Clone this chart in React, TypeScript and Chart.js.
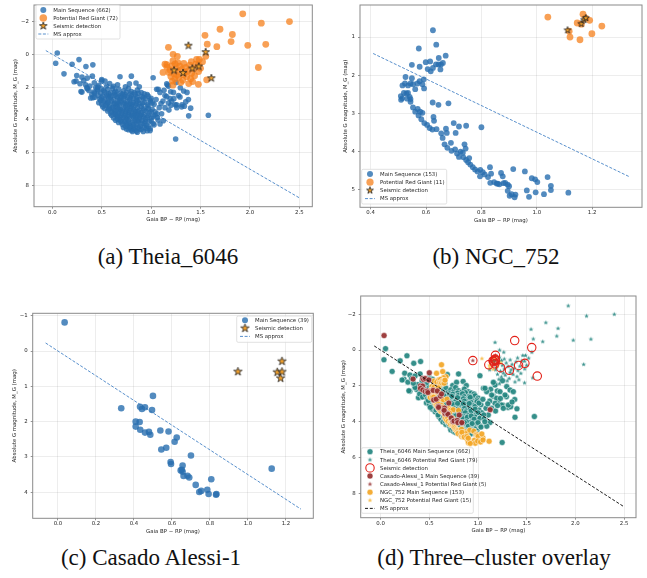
import React, { useEffect, useRef } from "react";
import { Chart, registerables } from "chart.js";

Chart.register(...registerables);

type Pt = [number, number];

// ---------------- Theia_6046 ----------------
const THEIA_MS: Pt[] = [
  // upper main sequence
  [0.05, -0.08], [0.034, 0.54], [0.118, 1.19], [0.2, 0.6], [0.27, 0.32], [0.34, 0.74], [0.41, 0.64],
  [0.247, 1.29], [0.24, 1.63], [0.3, 1.39], [0.28, 1.79], [0.318, 1.59], [0.35, 2.03], [0.3, 2.3],
  [0.405, 1.33], [0.425, 1.73], [0.38, 1.93], [0.41, 2.64], [0.37, 2.2], [0.46, 2.0], [0.5, 1.53],
  [0.388, 2.66], [0.29, 2.27], [0.354, 2.09], [0.22, 1.67], [0.336, 1.85], [0.353, 1.45], [0.428, 2.36],
  [0.455, 2.13], [0.685, 1.37], [0.8, 1.33], [1.02, 1.43], [0.55, 1.93], [0.533, 1.63], [0.847, 1.75],
  // dense core
  [0.5, 1.62], [0.58, 1.78], [0.62, 1.95], [0.66, 1.85], [0.74, 1.98], [0.78, 1.8], [0.88, 1.98],
  [0.47, 1.88], [0.44, 2.02],
  [0.46, 2.2], [0.5, 2.1], [0.53, 2.3], [0.56, 2.15], [0.59, 2.35], [0.61, 2.06], [0.64, 2.25],
  [0.67, 2.12], [0.69, 2.38], [0.72, 2.22], [0.75, 2.31], [0.77, 2.09], [0.8, 2.27], [0.83, 2.35],
  [0.86, 2.18], [0.9, 2.33], [0.93, 2.4], [0.49, 2.37], [0.42, 2.3], [0.4, 2.45],
  [0.52, 2.2], [0.57, 2.4], [0.63, 2.32], [0.71, 2.44], [0.79, 2.4], [0.87, 2.38], [0.96, 2.45],
  [0.43, 2.62], [0.46, 2.5], [0.48, 2.72], [0.51, 2.55], [0.53, 2.78], [0.55, 2.48], [0.57, 2.66],
  [0.6, 2.52], [0.62, 2.75], [0.64, 2.45], [0.66, 2.63], [0.68, 2.8], [0.7, 2.55], [0.72, 2.7],
  [0.74, 2.46], [0.76, 2.62], [0.78, 2.77], [0.8, 2.53], [0.82, 2.68], [0.84, 2.44], [0.86, 2.6],
  [0.88, 2.76], [0.91, 2.58], [0.94, 2.7], [0.97, 2.55], [1.0, 2.68], [0.56, 2.58], [0.69, 2.68],
  [0.5, 2.65], [0.59, 2.6], [0.65, 2.55], [0.73, 2.58], [0.79, 2.66], [0.85, 2.72], [0.92, 2.64],
  [0.99, 2.78],
  [0.47, 2.95], [0.5, 3.05], [0.52, 2.88], [0.54, 3.12], [0.56, 2.96], [0.58, 3.18], [0.6, 2.84],
  [0.62, 3.04], [0.64, 3.2], [0.66, 2.92], [0.68, 3.1], [0.7, 2.86], [0.72, 3.02], [0.74, 3.16],
  [0.76, 2.9], [0.78, 3.07], [0.8, 3.19], [0.82, 2.94], [0.84, 3.1], [0.86, 2.85], [0.88, 3.03],
  [0.9, 3.17], [0.93, 2.93], [0.96, 3.08], [0.99, 2.88], [1.03, 3.05], [0.65, 3.05], [0.73, 2.97],
  [0.81, 3.05], [0.55, 3.02],
  [0.49, 2.82], [0.57, 2.9], [0.63, 2.98], [0.67, 3.0], [0.75, 3.05], [0.79, 2.98], [0.85, 3.0],
  [0.91, 2.98], [0.97, 3.15], [1.01, 2.96],
  [0.53, 3.3], [0.56, 3.45], [0.58, 3.28], [0.6, 3.52], [0.62, 3.36], [0.64, 3.58], [0.66, 3.25],
  [0.68, 3.44], [0.7, 3.6], [0.72, 3.32], [0.74, 3.5], [0.76, 3.27], [0.78, 3.42], [0.8, 3.57],
  [0.82, 3.34], [0.84, 3.48], [0.86, 3.26], [0.88, 3.4], [0.9, 3.55], [0.92, 3.3], [0.95, 3.46],
  [0.98, 3.58], [1.01, 3.35], [1.04, 3.5], [0.69, 3.35], [0.77, 3.55], [0.85, 3.6], [0.63, 3.45],
  [0.51, 3.2], [0.57, 3.35], [0.61, 3.25], [0.67, 3.35], [0.71, 3.45], [0.75, 3.38], [0.79, 3.3],
  [0.83, 3.42], [0.87, 3.5], [0.93, 3.4], [0.97, 3.3], [1.0, 3.5],
  [0.6, 3.72], [0.62, 3.88], [0.64, 3.66], [0.66, 3.8], [0.68, 3.96], [0.7, 3.7], [0.72, 3.85],
  [0.74, 3.64], [0.76, 3.78], [0.78, 3.94], [0.8, 3.68], [0.82, 3.82], [0.84, 3.98], [0.86, 3.72],
  [0.88, 3.86], [0.9, 3.66], [0.92, 3.8], [0.94, 3.95], [0.97, 3.74], [1.0, 3.88], [1.04, 3.7],
  [0.75, 3.9], [0.83, 3.7], [0.69, 3.82],
  [0.59, 3.62], [0.65, 3.72], [0.67, 3.6], [0.73, 3.74], [0.77, 3.68], [0.81, 3.76], [0.85, 3.84],
  [0.89, 3.75], [0.93, 3.68], [0.96, 3.86], [1.02, 3.8],
  [0.64, 4.02], [0.67, 4.15], [0.69, 4.05], [0.71, 4.28], [0.73, 4.1], [0.75, 4.22], [0.77, 4.04],
  [0.79, 4.35], [0.81, 4.16], [0.83, 4.06], [0.85, 4.26], [0.87, 4.12], [0.89, 4.38], [0.91, 4.04],
  [0.93, 4.2], [0.95, 4.32], [0.98, 4.1], [1.02, 4.22], [0.76, 4.3], [0.88, 4.0],
  [0.66, 3.95], [0.7, 4.12], [0.74, 4.0], [0.78, 4.2], [0.82, 4.3], [0.86, 4.05], [0.9, 4.25],
  [0.94, 4.1], [0.97, 4.4], [1.0, 4.05],
  [0.72, 4.46], [0.75, 4.55], [0.78, 4.44], [0.8, 4.62], [0.82, 4.5], [0.85, 4.68], [0.87, 4.48],
  [0.9, 4.58], [0.93, 4.45], [0.96, 4.66], [0.99, 4.52], [0.84, 4.42], [0.77, 4.6],
  [0.74, 4.38], [0.79, 4.52], [0.83, 4.6], [0.88, 4.55], [0.92, 4.7], [0.95, 4.5], [0.81, 4.7],
  [0.86, 4.75],
  // redder group
  [1.056, 2.13], [1.13, 2.19], [1.167, 1.87], [1.157, 2.58], [1.198, 2.28], [1.252, 1.71], [1.208, 2.84],
  [1.258, 3.08], [1.292, 2.6], [1.309, 3.2], [1.336, 3.16], [1.377, 2.76], [1.4, 3.28], [1.38, 3.75],
  [1.579, 3.71], [1.248, 5.16], [1.123, 4.05], [1.09, 4.25], [1.089, 2.32], [1.175, 1.95], [1.158, 1.8],
  [1.072, 2.13], [1.14, 2.51], [1.192, 2.69], [1.226, 2.32], [1.277, 2.51], [1.295, 2.04], [1.329, 2.23],
  [1.363, 2.32], [1.175, 2.97], [1.243, 3.07], [1.26, 3.25], [1.312, 3.07], [1.14, 3.25], [1.082, 3.25],
  [1.106, 3.62], [1.06, 3.62], [1.062, 3.85], [1.12, 2.85], [1.23, 2.7], [1.1, 3.0], [1.18, 3.4],
  [1.05, 2.75], [1.2, 3.1], [1.35, 2.9], [1.03, 4.3], [1.07, 4.0], [0.99, 4.65],
];

const THEIA_RG: Pt[] = [
  [1.927, -2.47], [2.4, -2.0], [2.115, -1.9], [1.697, -1.53], [1.822, -1.21], [1.545, -1.16],
  [1.809, -0.78], [1.978, -0.55], [2.16, -0.61], [1.568, -0.62], [1.665, -0.47], [1.175, -0.43],
  [2.085, 0.8], [1.222, 0.0], [1.265, 0.12], [1.488, 0.3], [1.553, 0.12], [1.407, 0.44],
  [1.158, 0.62], [1.242, 0.58], [1.478, 0.62], [1.562, 1.55], [1.478, 1.83], [1.215, 1.63],
  [1.16, 0.78], [1.19, 0.95], [1.21, 0.7], [1.23, 1.18], [1.25, 0.85], [1.27, 1.05], [1.29, 0.72],
  [1.31, 0.92], [1.33, 1.25], [1.35, 0.8], [1.37, 1.02], [1.39, 0.66], [1.41, 1.15], [1.43, 0.9],
  [1.45, 0.6], [1.2, 1.35], [1.24, 1.5], [1.28, 1.4], [1.32, 1.58], [1.36, 1.36], [1.4, 1.48],
  [1.44, 1.3], [1.18, 1.1], [1.26, 1.28], [1.3, 1.72], [1.34, 1.1], [1.38, 1.78], [1.42, 1.66],
  [1.22, 1.88], [1.48, 1.05], [1.5, 0.85], [1.52, 0.45], [1.46, 0.3], [1.14, 0.6], [1.12, 1.1],
  [1.33, 0.55], [1.27, 0.5], [1.22, 0.4],
];

const THEIA_SEISMIC: Pt[] = [
  [1.377, -0.53], [1.552, -0.14], [1.232, 0.98], [1.323, 1.13], [1.417, 0.86], [1.482, 0.74], [1.609, 1.45],
];

// ---------------- NGC_752 ----------------
const NGC_MS: Pt[] = [
  [0.625, 0.82], [0.637, 1.2], [0.574, 1.3], [0.671, 1.49], [0.646, 1.55], [0.549, 1.73], [0.577, 1.78],
  [0.599, 1.66], [0.615, 1.64], [0.606, 1.84], [0.617, 1.9], [0.625, 1.81], [0.636, 1.72], [0.645, 1.72],
  [0.654, 1.72], [0.652, 1.85], [0.661, 1.68],
  [0.526, 2.05], [0.524, 2.22], [0.515, 2.27], [0.535, 2.27], [0.544, 2.22], [0.553, 2.24], [0.549, 2.08],
  [0.569, 2.22], [0.577, 2.16], [0.587, 2.24], [0.592, 2.11], [0.593, 2.35], [0.561, 2.37], [0.509, 2.55],
  [0.514, 2.61], [0.529, 2.48], [0.52, 2.47], [0.535, 2.47], [0.544, 2.7], [0.541, 2.57], [0.51, 2.65],
  [0.532, 2.62], [0.544, 2.63],
  [0.553, 2.85], [0.561, 2.96], [0.57, 2.89], [0.579, 2.96], [0.573, 3.06], [0.587, 2.99], [0.583, 3.16],
  [0.594, 3.26], [0.604, 3.31], [0.613, 3.39], [0.623, 3.43], [0.638, 3.42],
  [0.624, 2.72], [0.645, 2.78], [0.681, 2.74], [0.627, 3.1], [0.629, 3.2], [0.655, 3.53], [0.66, 3.65],
  [0.672, 3.41], [0.675, 3.52], [0.7, 3.26], [0.719, 3.35], [0.745, 3.33], [0.8, 3.37], [0.707, 3.52],
  [0.667, 3.82], [0.677, 3.91], [0.69, 3.78], [0.705, 3.95], [0.692, 3.99], [0.712, 4.06], [0.725, 4.01],
  [0.719, 4.15], [0.739, 3.82], [0.733, 4.04], [0.743, 3.93], [0.735, 4.16], [0.745, 4.23], [0.752, 4.29],
  [0.756, 4.18], [0.76, 4.35], [0.769, 4.42], [0.777, 4.48], [0.786, 4.53], [0.796, 4.49], [0.805, 4.55],
  [0.812, 4.61], [0.795, 4.66], [0.831, 4.42], [0.824, 4.68], [0.832, 4.83], [0.846, 4.81], [0.855, 4.85],
  [0.871, 4.57], [0.877, 4.66], [0.865, 4.87], [0.88, 4.84], [0.895, 5.04],
  [0.835, 4.59], [0.859, 4.85], [0.895, 4.88], [0.909, 5.13], [0.923, 5.14], [0.915, 4.47], [0.957, 4.53],
  [0.964, 5.03], [0.972, 5.2], [0.982, 4.71], [0.994, 4.74], [1.002, 4.81], [0.996, 5.08], [1.026, 5.13],
  [1.051, 4.91], [1.051, 5.02], [1.114, 5.09], [0.902, 5.17], [0.92, 5.21], [0.886, 4.83], [0.9, 4.92],
  [1.039, 4.68],
];

const NGC_RG: Pt[] = [
  [1.04, 0.475], [1.167, 0.4], [1.146, 0.63], [1.177, 0.5], [1.191, 0.56], [1.235, 0.71],
  [1.199, 0.91], [1.12, 1.0], [1.156, 1.07], [1.117, 0.845], [1.161, 0.66],
];

const NGC_SEISMIC: Pt[] = [[1.111, 0.82], [1.161, 0.65], [1.171, 0.545], [1.177, 0.5]];

// ---------------- Casado Alessi-1 ----------------
const CASADO_MS: Pt[] = [
  [0.035, -0.81], [0.333, 1.62], [0.5, 1.27], [0.432, 1.58], [0.442, 1.64], [0.458, 1.59], [0.495, 1.67],
  [0.409, 2.0], [0.43, 2.01], [0.409, 2.14], [0.433, 2.23], [0.458, 2.31], [0.479, 2.29], [0.486, 2.37],
  [0.539, 2.25], [0.582, 2.28], [0.544, 2.79], [0.57, 2.74], [0.614, 2.57], [0.625, 2.45], [0.7, 2.96],
  [0.593, 3.14], [0.595, 3.2], [0.646, 3.38], [0.656, 3.24], [0.656, 3.42], [0.661, 3.54], [0.682, 3.53],
  [0.691, 3.58], [0.807, 3.63], [0.725, 3.79], [0.744, 3.99], [0.754, 3.96], [0.786, 3.93], [0.793, 4.05],
  [0.832, 4.07], [0.834, 4.05], [1.125, 3.33], [0.652, 3.36],
];

// Casado red giants: all five carry a seismic detection
const CASADO_RG: Pt[] = [[0.947, 0.585], [1.179, 0.29], [1.154, 0.6], [1.179, 0.59], [1.172, 0.77]];

// main-sequence reference line M_G = slope * (BP-RP) + offset
const MS_SLOPE = 3.5;
const MS_OFFSET = 0;
const MS_PAD = 0.1;

// axis ticks
const TICKS_A_X = [0, 0.5, 1, 1.5, 2, 2.5];
const TICKS_A_Y = [-2, 0, 2, 4, 6, 8];
const TICKS_B_X = [0.4, 0.6, 0.8, 1.0, 1.2];
const TICKS_B_Y = [1, 2, 3, 4, 5];
const TICKS_C_X = [0, 0.2, 0.4, 0.6, 0.8, 1.0, 1.2];
const TICKS_C_Y = [-1, 0, 1, 2, 3, 4];
const TICKS_D_X = [0, 0.5, 1, 1.5, 2, 2.5];
const TICKS_D_Y = [-2, 0, 2, 4, 6, 8];

const X_TITLE = "Gaia BP \u2212 RP (mag)";
const Y_TITLE = "Absolute G magnitude, M_G (mag)";

// ---------------- styling ----------------
const TEXT = "#262626";
const GRID = "rgba(0,0,0,0.09)";
const SPINE = "#8a8a8a";
const FONT = "'DejaVu Sans', 'Liberation Sans', sans-serif";
const FS = 5.4;

const BLUE = "rgba(40,110,175,0.8)";
const ORANGE = "rgba(245,128,28,0.75)";
const STAR_FILL = "#f4a12a";
const STAR_EDGE = "#1e1e1e";
const LINE_BLUE = "rgba(60,125,195,0.85)";
const TEAL = "rgba(36,133,128,0.92)";
const BROWN = "rgba(150,48,48,0.92)";
const GOLD = "rgba(243,166,38,0.92)";
const GOLD_STAR = "rgba(246,183,60,0.95)";
const RING = "#e32119";

Chart.defaults.font.family = FONT;
Chart.defaults.color = TEXT;

function starPath(ctx: CanvasRenderingContext2D, cx: number, cy: number, r: number) {
  const inner = r * 0.382;
  ctx.beginPath();
  for (let i = 0; i < 10; i++) {
    const rad = i % 2 === 0 ? r : inner;
    const a = -Math.PI / 2 + (i * Math.PI) / 5;
    const px = cx + rad * Math.cos(a);
    const py = cy + rad * Math.sin(a);
    if (i === 0) ctx.moveTo(px, py);
    else ctx.lineTo(px, py);
  }
  ctx.closePath();
}

function starImage(r: number, fill: string, stroke: string | null, lw: number) {
  const pad = Math.ceil(lw) + 1;
  const size = Math.ceil(2 * r + 2 * pad);
  const c = document.createElement("canvas");
  c.width = size;
  c.height = size;
  const ctx = c.getContext("2d")!;
  starPath(ctx, size / 2, size / 2, r);
  ctx.fillStyle = fill;
  ctx.fill();
  if (stroke) {
    ctx.lineWidth = lw;
    ctx.strokeStyle = stroke;
    ctx.lineJoin = "miter";
    ctx.stroke();
  }
  return c;
}

const STAR_A = starImage(4, STAR_FILL, STAR_EDGE, 0.8);
const STAR_B = starImage(3.6, STAR_FILL, STAR_EDGE, 0.8);
const STAR_C = starImage(4.4, STAR_FILL, STAR_EDGE, 0.8);
const STAR_TEAL = starImage(2.5, TEAL, null, 0);
const STAR_GOLD = starImage(2.5, GOLD_STAR, null, 0);
const STAR_BROWN = starImage(2.5, BROWN, null, 0);

const pts = (arr: Pt[]) => arr.map(([x, y]) => ({ x, y }));

function dots(arr: Pt[], r: number, fill: string, order: number, edge = "", ew = 0) {
  return {
    data: pts(arr),
    showLine: false,
    pointStyle: "circle",
    pointRadius: r,
    pointHoverRadius: r,
    pointBackgroundColor: fill,
    pointBorderColor: edge || fill,
    pointBorderWidth: ew,
    order,
  };
}

function starsDs(arr: Pt[], img: HTMLCanvasElement, order: number) {
  return { data: pts(arr), showLine: false, pointStyle: img, pointRadius: 4, pointHoverRadius: 4, order };
}

function rings(arr: Pt[], r: number, order: number) {
  return {
    data: pts(arr),
    showLine: false,
    pointStyle: "circle",
    pointRadius: r,
    pointHoverRadius: r,
    pointBackgroundColor: "rgba(0,0,0,0)",
    pointBorderColor: RING,
    pointBorderWidth: 1.1,
    order,
  };
}

function msLine(sets: Pt[][], color: string, dash: number[], order: number) {
  const xs = sets.flat().map((p) => p[0]);
  const x0 = Math.min(...xs) - MS_PAD;
  const x1 = Math.max(...xs) + MS_PAD;
  return {
    data: [
      { x: x0, y: MS_SLOPE * x0 + MS_OFFSET },
      { x: x1, y: MS_SLOPE * x1 + MS_OFFSET },
    ],
    showLine: true,
    pointRadius: 0,
    pointHoverRadius: 0,
    borderColor: color,
    borderWidth: 1,
    borderDash: dash,
    fill: false,
    order,
  };
}

type Glyph =
  | { kind: "circle"; r: number; fill: string; edge?: string }
  | { kind: "star"; img: HTMLCanvasElement }
  | { kind: "ring"; r: number }
  | { kind: "dash"; color: string; dash: number[] };

interface LegendSpec {
  x: number; y: number; w: number; h: number;
  rowTop: number; rowGap: number; markerX: number; textX: number;
  items: { label: string; glyph: Glyph }[];
}

function drawGlyph(ctx: CanvasRenderingContext2D, g: Glyph, cx: number, cy: number) {
  if (g.kind === "circle") {
    ctx.beginPath();
    ctx.arc(cx, cy, g.r, 0, Math.PI * 2);
    ctx.fillStyle = g.fill;
    ctx.fill();
    if (g.edge) {
      ctx.lineWidth = 0.5;
      ctx.strokeStyle = g.edge;
      ctx.stroke();
    }
  } else if (g.kind === "star") {
    ctx.drawImage(g.img, cx - g.img.width / 2, cy - g.img.height / 2);
  } else if (g.kind === "ring") {
    ctx.beginPath();
    ctx.arc(cx, cy, g.r, 0, Math.PI * 2);
    ctx.lineWidth = 1.1;
    ctx.strokeStyle = RING;
    ctx.stroke();
  } else {
    ctx.beginPath();
    ctx.setLineDash(g.dash);
    ctx.moveTo(cx - 5, cy);
    ctx.lineTo(cx + 5, cy);
    ctx.lineWidth = 1;
    ctx.strokeStyle = g.color;
    ctx.stroke();
    ctx.setLineDash([]);
  }
}

function legendPlugin(spec: LegendSpec) {
  return {
    id: "boxLegend",
    afterDatasetsDraw(chart: any) {
      const ctx: CanvasRenderingContext2D = chart.ctx;
      ctx.save();
      ctx.beginPath();
      (ctx as any).roundRect(spec.x, spec.y, spec.w, spec.h, 1.5);
      ctx.fillStyle = "rgba(255,255,255,0.82)";
      ctx.fill();
      ctx.lineWidth = 0.7;
      ctx.strokeStyle = "#d4d4d4";
      ctx.stroke();
      ctx.font = `${FS}px ${FONT}`;
      ctx.textBaseline = "middle";
      ctx.textAlign = "left";
      spec.items.forEach((it, i) => {
        const cy = spec.y + spec.rowTop + i * spec.rowGap;
        drawGlyph(ctx, it.glyph, spec.x + spec.markerX, cy);
        ctx.fillStyle = TEXT;
        ctx.fillText(it.label, spec.x + spec.textX, cy + 0.3);
      });
      ctx.restore();
    },
  };
}

const framePlugin = {
  id: "axesFrame",
  afterDatasetsDraw(chart: any) {
    const { ctx, chartArea: a } = chart;
    ctx.save();
    ctx.lineWidth = 1;
    ctx.strokeStyle = SPINE;
    ctx.strokeRect(a.left, a.top, a.right - a.left, a.bottom - a.top);
    ctx.restore();
  },
};

interface PanelSpec {
  left: number; top: number; w: number; h: number;
  plot: { l: number; t: number; r: number; b: number };
  xRange: [number, number]; yRange: [number, number];
  xTicks: number[]; yTicks: number[]; xDec: number; yDec: number;
  xTitleY: number; yTitleX: number;
  datasets: any[];
  legend: LegendSpec;
}

const fmt = (v: number, dec: number) => Number(v).toFixed(dec).replace("-", "\u2212");

function buildConfig(p: PanelSpec): any {
  const lh = FS * 1.2;
  const font = { size: FS, family: FONT };
  return {
    type: "scatter",
    data: { datasets: p.datasets },
    options: {
      animation: false,
      responsive: false,
      maintainAspectRatio: false,
      devicePixelRatio: 1,
      events: [],
      layout: { padding: { top: p.plot.t, right: p.w - p.plot.r, left: 0, bottom: 0 } },
      plugins: { legend: { display: false }, tooltip: { enabled: false } },
      scales: {
        x: {
          type: "linear",
          min: p.xRange[0],
          max: p.xRange[1],
          afterBuildTicks: (s: any) => {
            s.ticks = p.xTicks.map((v) => ({ value: v }));
          },
          afterFit: (s: any) => {
            s.height = p.h - p.plot.b;
            s.paddingLeft = 0;
            s.paddingRight = 0;
          },
          ticks: { callback: (v: number) => fmt(v, p.xDec), font, color: TEXT, padding: 0.5, maxRotation: 0, autoSkip: false },
          grid: { color: GRID, lineWidth: 0.8, tickLength: 2, tickColor: "#666", tickWidth: 0.7 },
          border: { display: false },
          title: { display: true, text: X_TITLE, font, color: TEXT, padding: { top: 0, bottom: p.h - lh / 2 - p.xTitleY } },
        },
        y: {
          type: "linear",
          reverse: true,
          min: p.yRange[0],
          max: p.yRange[1],
          afterBuildTicks: (s: any) => {
            s.ticks = p.yTicks.map((v) => ({ value: v }));
          },
          afterFit: (s: any) => {
            s.width = p.plot.l;
            s.paddingTop = 0;
            s.paddingBottom = 0;
          },
          ticks: { callback: (v: number) => fmt(v, p.yDec), font, color: TEXT, padding: 3, autoSkip: false },
          grid: { color: GRID, lineWidth: 0.8, tickLength: 2, tickColor: "#666", tickWidth: 0.7 },
          border: { display: false },
          title: { display: true, text: Y_TITLE, font, color: TEXT, padding: { top: p.yTitleX - lh / 2, bottom: 0 } },
        },
      },
    },
    plugins: [framePlugin, legendPlugin(p.legend)],
  };
}

const PANELS: PanelSpec[] = [
  {
    left: 0, top: 0, w: 320, h: 226,
    plot: { l: 34, t: 3.3, r: 312.3, b: 206.7 },
    xRange: [-0.1855, 2.631], yRange: [-3.01, 9.29],
    xTicks: TICKS_A_X, yTicks: TICKS_A_Y, xDec: 1, yDec: 0,
    xTitleY: 220, yTitleX: 16,
    datasets: [
      starsDs(THEIA_SEISMIC, STAR_A, 1),
      dots(THEIA_RG, 3.4, ORANGE, 2),
      dots(THEIA_MS, 2.8, BLUE, 3),
      msLine([THEIA_MS, THEIA_RG], LINE_BLUE, [3, 1.6], 4),
    ],
    legend: {
      x: 36, y: 5, w: 84, h: 34, rowTop: 5, rowGap: 8, markerX: 7.3, textX: 17.3,
      items: [
        { label: "Main Sequence (662)", glyph: { kind: "circle", r: 3, fill: BLUE } },
        { label: "Potential Red Giant (72)", glyph: { kind: "circle", r: 3.8, fill: ORANGE } },
        { label: "Seismic detection", glyph: { kind: "star", img: STAR_A } },
        { label: "MS approx", glyph: { kind: "dash", color: LINE_BLUE, dash: [3, 1.6] } },
      ],
    },
  },
  {
    left: 322, top: 0, w: 325, h: 226,
    plot: { l: 38, t: 1.7, r: 321.3, b: 207.3 },
    xRange: [0.3616, 1.38], yRange: [0.157, 5.474],
    xTicks: TICKS_B_X, yTicks: TICKS_B_Y, xDec: 1, yDec: 0,
    xTitleY: 220.7, yTitleX: 24,
    datasets: [
      starsDs(NGC_SEISMIC, STAR_B, 1),
      dots(NGC_RG, 3.4, ORANGE, 2),
      dots(NGC_MS, 2.9, BLUE, 3),
      msLine([NGC_MS, NGC_RG], LINE_BLUE, [3, 1.6], 4),
    ],
    legend: {
      x: 39.7, y: 169.3, w: 85, h: 34.7, rowTop: 4.7, rowGap: 8.2, markerX: 8.3, textX: 18.3,
      items: [
        { label: "Main Sequence (153)", glyph: { kind: "circle", r: 3, fill: BLUE } },
        { label: "Potential Red Giant (11)", glyph: { kind: "circle", r: 3.6, fill: ORANGE } },
        { label: "Seismic detection", glyph: { kind: "star", img: STAR_B } },
        { label: "MS approx", glyph: { kind: "dash", color: LINE_BLUE, dash: [3, 1.6] } },
      ],
    },
  },
  {
    left: 0, top: 290, w: 320, h: 246,
    plot: { l: 32.7, t: 23.3, r: 313.3, b: 228.3 },
    xRange: [-0.133, 1.344], yRange: [-1.068, 4.736],
    xTicks: TICKS_C_X, yTicks: TICKS_C_Y, xDec: 1, yDec: 0,
    xTitleY: 241.6, yTitleX: 15,
    datasets: [
      starsDs(CASADO_RG, STAR_C, 1),
      dots(CASADO_MS, 3.3, BLUE, 2),
      msLine([CASADO_MS, CASADO_RG], LINE_BLUE, [3, 1.6], 4),
    ],
    legend: {
      x: 236.7, y: 26, w: 75, h: 26.3, rowTop: 4.2, rowGap: 8.1, markerX: 8.3, textX: 18.3,
      items: [
        { label: "Main Sequence (39)", glyph: { kind: "circle", r: 3, fill: BLUE } },
        { label: "Seismic detection", glyph: { kind: "star", img: STAR_C } },
        { label: "MS approx", glyph: { kind: "dash", color: LINE_BLUE, dash: [3, 1.6] } },
      ],
    },
  },
  {
    left: 322, top: 290, w: 325, h: 246,
    plot: { l: 38.7, t: 6, r: 314, b: 227.7 },
    xRange: [-0.205, 2.623], yRange: [-3.02, 9.36],
    xTicks: TICKS_D_X, yTicks: TICKS_D_Y, xDec: 1, yDec: 0,
    xTitleY: 241, yTitleX: 21.3,
    datasets: [
      msLine([THEIA_MS, THEIA_RG, NGC_MS, NGC_RG, CASADO_MS, CASADO_RG], "#1a1a1a", [3, 1.8], 0),
      rings([...THEIA_SEISMIC, ...NGC_SEISMIC, ...CASADO_RG], 4.2, 1),
      starsDs(CASADO_RG, STAR_BROWN, 2),
      dots(CASADO_MS, 3, BROWN, 3, "#ffffff", 0.5),
      starsDs(NGC_RG, STAR_GOLD, 4),
      dots(NGC_MS, 3, GOLD, 5, "#ffffff", 0.5),
      starsDs(THEIA_RG, STAR_TEAL, 6),
      dots(THEIA_MS, 3, TEAL, 7, "#ffffff", 0.5),
    ],
    legend: {
      x: 39.5, y: 157.7, w: 111.8, h: 65.6, rowTop: 4, rowGap: 8.1, markerX: 8.5, textX: 18.5,
      items: [
        { label: "Theia_6046 Main Sequence (662)", glyph: { kind: "circle", r: 3, fill: TEAL, edge: "#fff" } },
        { label: "Theia_6046 Potential Red Giant (79)", glyph: { kind: "star", img: STAR_TEAL } },
        { label: "Seismic detection", glyph: { kind: "ring", r: 4.2 } },
        { label: "Casado-Alessi_1 Main Sequence (39)", glyph: { kind: "circle", r: 3, fill: BROWN, edge: "#fff" } },
        { label: "Casado-Alessi_1 Potential Red Giant (5)", glyph: { kind: "star", img: STAR_BROWN } },
        { label: "NGC_752 Main Sequence (153)", glyph: { kind: "circle", r: 3, fill: GOLD, edge: "#fff" } },
        { label: "NGC_752 Potential Red Giant (15)", glyph: { kind: "star", img: STAR_GOLD } },
        { label: "MS approx", glyph: { kind: "dash", color: "#1a1a1a", dash: [3, 1.8] } },
      ],
    },
  },
];

const CAPTIONS = [
  { text: "(a) Theia_6046", cx: 168, top: 245 },
  { text: "(b) NGC_752", cx: 496, top: 245 },
  { text: "(c) Casado Alessi-1", cx: 151, top: 546 },
  { text: "(d) Three\u2013cluster overlay", cx: 494, top: 546 },
];

function Panel({ spec }: { spec: PanelSpec }) {
  const ref = useRef<HTMLCanvasElement>(null);
  useEffect(() => {
    const chart = new Chart(ref.current!, buildConfig(spec));
    return () => chart.destroy();
  }, [spec]);
  return (
    <canvas
      ref={ref}
      width={spec.w}
      height={spec.h}
      style={{ position: "absolute", left: spec.left, top: spec.top, width: spec.w, height: spec.h }}
    />
  );
}

export default function App() {
  return (
    <div style={{ position: "fixed", left: 0, top: 0, width: 647, height: 578, background: "#fff", overflow: "hidden" }}>
      {PANELS.map((p, i) => (
        <Panel key={i} spec={p} />
      ))}
      {CAPTIONS.map((c, i) => (
        <div
          key={"c" + i}
          style={{
            position: "absolute",
            left: c.cx - 160,
            width: 320,
            top: c.top,
            textAlign: "center",
            fontFamily: "'Liberation Serif', 'Times New Roman', serif",
            fontSize: 23,
            lineHeight: "23px",
            color: "#111",
            whiteSpace: "nowrap",
          }}
        >
          {c.text}
        </div>
      ))}
    </div>
  );
}
